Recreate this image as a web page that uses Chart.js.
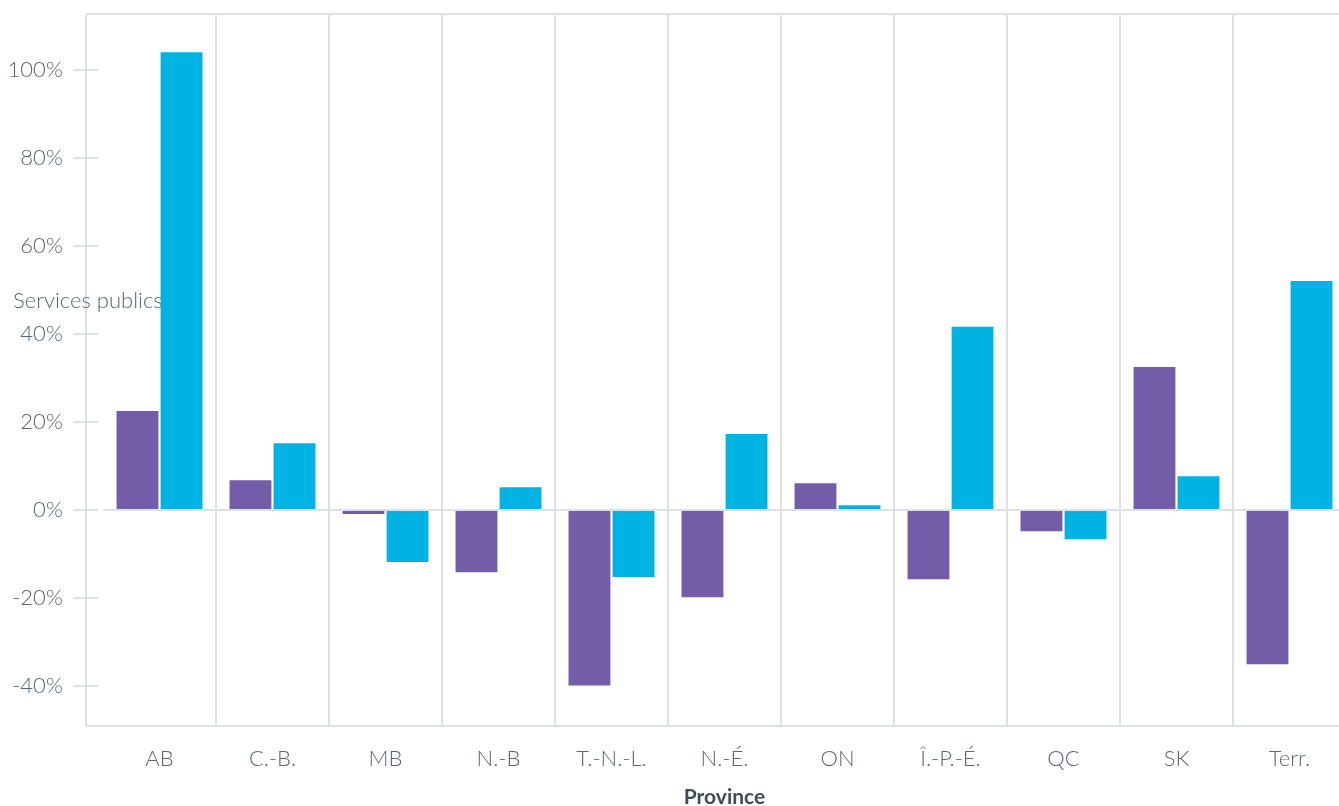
<!DOCTYPE html>
<html lang="fr">
<head>
<meta charset="utf-8">
<title>Services publics par province</title>
<script src="https://cdn.jsdelivr.net/npm/chart.js@4"></script>
<style>
  html, body { margin: 0; padding: 0; background: #fff; overflow: hidden; }
  #wrap { position: absolute; left: 0; top: 0; width: 1346px; height: 806px; }
</style>
</head>
<body>
<div id="wrap"><canvas id="chart"></canvas></div>
<script>
// Data
const provinces = ["AB", "C.-B.", "MB", "N.-B", "T.-N.-L.", "N.-É.", "ON", "Î.-P.-É.", "QC", "SK", "Terr."];
const seriesA = [22.5, 6.8, -0.9, -14.1, -39.8, -19.8, 6.1, -15.7, -4.8, 32.5, -35.0];
const seriesB = [103.9, 15.2, -11.8, 5.2, -15.2, 17.3, 1.1, 41.6, -6.6, 7.7, 52.0];
const yTicks = [-40, -20, 0, 20, 40, 60, 80, 100];

const gridColor = "#dde0e4";
const textColor = "#5b6675";
const fontFamily = "Lato, 'Noto Sans', sans-serif";

// Frame, axis line, tick marks and the floating y title, drawn under the bars
const frame = {
  id: "frame",
  beforeDatasetsDraw(chart) {
    const { ctx, chartArea: a, scales: { y } } = chart;
    const axisX = a.left - 17;
    ctx.save();
    ctx.strokeStyle = gridColor;
    ctx.lineWidth = 2;
    ctx.beginPath();
    ctx.moveTo(axisX, a.top);
    ctx.lineTo(chart.width, a.top);
    ctx.moveTo(axisX, a.bottom);
    ctx.lineTo(chart.width, a.bottom);
    ctx.moveTo(axisX, a.top);
    ctx.lineTo(axisX, a.bottom);
    yTicks.forEach(v => {
      const py = Math.round(y.getPixelForValue(v));
      ctx.moveTo(axisX - 13, py);
      ctx.lineTo(axisX + 12, py);
    });
    ctx.stroke();

    ctx.fillStyle = textColor;
    ctx.font = "300 22px " + fontFamily;
    ctx.textBaseline = "alphabetic";
    ctx.fillText("Services publics", 13, 308);
    ctx.restore();
  }
};

new Chart(document.getElementById("chart"), {
  type: "bar",
  data: {
    labels: provinces,
    datasets: [
      {
        label: "Série 1",
        data: seriesA,
        backgroundColor: "#735ca8",
        categoryPercentage: 0.78,
        barPercentage: 0.95
      },
      {
        label: "Série 2",
        data: seriesB,
        backgroundColor: "#00b3e3",
        categoryPercentage: 0.78,
        barPercentage: 0.95
      }
    ]
  },
  options: {
    responsive: true,
    maintainAspectRatio: false,
    animation: false,
    layout: { padding: { top: 14, left: 0, right: 0, bottom: 0 } },
    plugins: {
      legend: { display: false },
      tooltip: { enabled: false }
    },
    scales: {
      x: {
        offset: true,
        border: { display: false },
        grid: {
          offset: true,
          drawTicks: false,
          lineWidth: 2,
          color: c => (c.index === 0 ? "transparent" : gridColor)
        },
        ticks: {
          color: textColor,
          padding: 20,
          font: { family: fontFamily, size: 22, weight: "300" }
        },
        title: {
          display: true,
          text: "Province",
          color: "#414c5a",
          padding: { top: 0, bottom: -4 },
          font: { family: fontFamily, size: 21, weight: "bold" }
        },
        afterFit: s => { s.height = 80; s.paddingLeft = 0; s.paddingRight = 0; }
      },
      y: {
        min: -49,
        max: 112.6,
        border: { display: false },
        grid: {
          drawTicks: false,
          lineWidth: 2,
          color: c => (c.tick.value === 0 ? gridColor : "transparent")
        },
        ticks: {
          stepSize: 20,
          padding: 40,
          color: textColor,
          font: { family: fontFamily, size: 22, weight: "300" },
          callback: v => (yTicks.includes(v) ? v + "%" : "")
        },
        afterFit: s => { s.width = 103; s.paddingTop = 0; s.paddingBottom = 0; }
      }
    }
  },
  plugins: [frame]
});
</script>
</body>
</html>
